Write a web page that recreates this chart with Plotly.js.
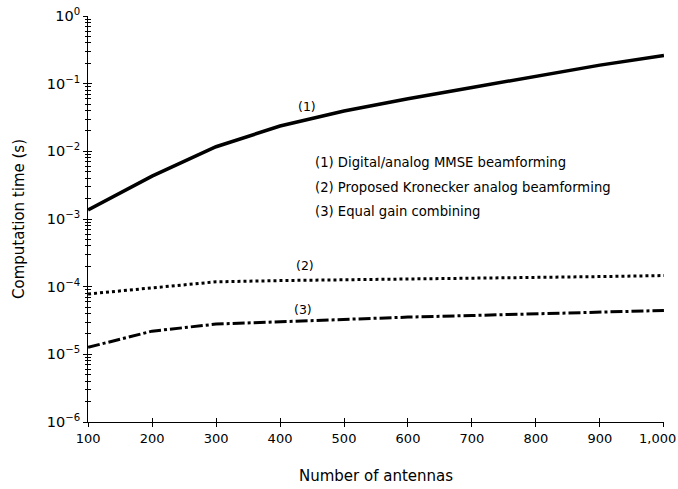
<!DOCTYPE html>
<html>
<head>
<meta charset="utf-8">
<script src="https://cdn.plot.ly/plotly-3.0.1.min.js"></script>
<style>
  html, body { margin: 0; padding: 0; background: #fff; }
  #chart { width: 678px; height: 489px; }
</style>
</head>
<body>
<div id="chart"></div>
<script>
// Number of antennas
const antennas = [100, 200, 300, 400, 500, 600, 700, 800, 900, 1000];

// Computation time (s) per method
const mmseTime = [1.36e-3, 4.3e-3, 1.17e-2, 2.37e-2, 3.95e-2, 6.0e-2, 8.8e-2, 1.30e-1, 1.88e-1, 2.62e-1];
const kroneckerTime = [7.8e-5, 9.5e-5, 1.18e-4, 1.23e-4, 1.26e-4, 1.31e-4, 1.35e-4, 1.38e-4, 1.41e-4, 1.46e-4];
const egcTime = [1.27e-5, 2.2e-5, 2.8e-5, 3.05e-5, 3.3e-5, 3.55e-5, 3.75e-5, 4.0e-5, 4.2e-5, 4.45e-5];

const curveTags = ['(1)', '(2)', '(3)'];
const methodNames = [
  'Digital/analog MMSE beamforming',
  'Proposed Kronecker analog beamforming',
  'Equal gain combining'
];

const yTickVals = [1e-6, 1e-5, 1e-4, 1e-3, 1e-2, 1e-1, 1];
const yTickText = ['10<sup>\u22126</sup>', '10<sup>\u22125</sup>', '10<sup>\u22124</sup>',
                   '10<sup>\u22123</sup>', '10<sup>\u22122</sup>', '10<sup>\u22121</sup>', '10<sup>0</sup>'];
const xTickVals = [100, 200, 300, 400, 500, 600, 700, 800, 900, 1000];
const xTickText = ['100', '200', '300', '400', '500', '600', '700', '800', '900', '1,000'];

const FONT = 'DejaVu Sans, Verdana, sans-serif';
const INK = '#000';

const traces = [
  { x: antennas, y: mmseTime, mode: 'lines', name: methodNames[0],
    line: { color: INK, width: 3.5 }, hoverinfo: 'x+y' },
  { x: antennas, y: kroneckerTime, mode: 'lines', name: methodNames[1],
    line: { color: INK, width: 3, dash: 'dot' }, hoverinfo: 'x+y' },
  { x: antennas, y: egcTime, mode: 'lines', name: methodNames[2],
    line: { color: INK, width: 3, dash: '12px,3px,3px,3px' }, hoverinfo: 'x+y' },
  // companion trace that carries the inner halves of the crossing ticks
  { x: antennas, y: egcTime, xaxis: 'x2', yaxis: 'y2', mode: 'lines',
    line: { color: 'rgba(0,0,0,0)', width: 0 }, hoverinfo: 'skip', showlegend: false }
];

// the last x label sits against the right edge, so it is drawn as a nudged annotation
const lastX = xTickVals.length - 1;
const axisXText = xTickText.map((t, i) => (i === lastX ? '' : t));

const baseX = {
  type: 'linear', range: [99.9, 1000.1], tickvals: xTickVals, ticktext: axisXText,
  showgrid: false, zeroline: false, fixedrange: true
};
const baseY = {
  type: 'log', range: [-6, 0.0005], tickvals: yTickVals, ticktext: yTickText,
  showgrid: false, zeroline: false, fixedrange: true
};

const annotations = [
  { x: 442, y: -1.34, xref: 'x', yref: 'y', text: curveTags[0], showarrow: false },
  { x: 439, y: -3.69, xref: 'x', yref: 'y', text: curveTags[1], showarrow: false },
  { x: 436, y: -4.34, xref: 'x', yref: 'y', text: curveTags[2], showarrow: false }
];
annotations.forEach(a => { a.font = { family: FONT, size: 12.5, color: INK }; });

const legendY = [0.638, 0.577, 0.518];
methodNames.forEach((name, i) => {
  annotations.push({
    x: 0.39, y: legendY[i], xref: 'paper', yref: 'paper',
    xanchor: 'left', yanchor: 'middle', showarrow: false,
    text: curveTags[i] + ' ' + name,
    font: { family: FONT, size: 13.2, color: INK }
  });
});

annotations.push({
  x: xTickVals[lastX], y: 0, xref: 'x', yref: 'paper',
  xanchor: 'center', yanchor: 'middle', xshift: -6, yshift: -16,
  showarrow: false, text: xTickText[lastX],
  font: { family: FONT, size: 13, color: INK }
});

const layout = {
  width: 678, height: 489,
  margin: { l: 88, r: 14, t: 16, b: 67 },
  paper_bgcolor: '#fff', plot_bgcolor: '#fff',
  showlegend: false,
  font: { family: FONT, size: 13, color: INK },
  xaxis: Object.assign({}, baseX, {
    showline: true, linecolor: INK, linewidth: 1,
    ticks: 'outside', ticklen: 4, tickcolor: INK, tickwidth: 1,
    tickfont: { family: FONT, size: 13, color: INK },
    title: { text: 'Number of antennas', font: { family: FONT, size: 15, color: INK }, standoff: 25 }
  }),
  yaxis: Object.assign({}, baseY, {
    showline: true, linecolor: INK, linewidth: 1,
    ticks: 'outside', ticklen: 4, tickcolor: INK, tickwidth: 1,
    minor: { ticks: 'outside', ticklen: 2.5, tickcolor: INK, tickwidth: 1, dtick: 'D1', showgrid: false },
    tickfont: { family: FONT, size: 14.5, color: INK },
    title: { text: 'Computation time (s)', font: { family: FONT, size: 15, color: INK }, standoff: 18 }
  }),
  xaxis2: Object.assign({}, baseX, {
    overlaying: 'x', anchor: 'y2', side: 'bottom', matches: 'x',
    showline: false, showticklabels: false,
    ticks: 'inside', ticklen: 4, tickcolor: INK, tickwidth: 1
  }),
  yaxis2: Object.assign({}, baseY, {
    overlaying: 'y', anchor: 'x2', side: 'left', matches: 'y',
    showline: false, showticklabels: false,
    ticks: 'inside', ticklen: 4, tickcolor: INK, tickwidth: 1,
    minor: { ticks: 'inside', ticklen: 2.5, tickcolor: INK, tickwidth: 1, dtick: 'D1', showgrid: false }
  }),
  annotations: annotations
};

Plotly.newPlot('chart', traces, layout, { displayModeBar: false, staticPlot: true });
</script>
</body>
</html>
